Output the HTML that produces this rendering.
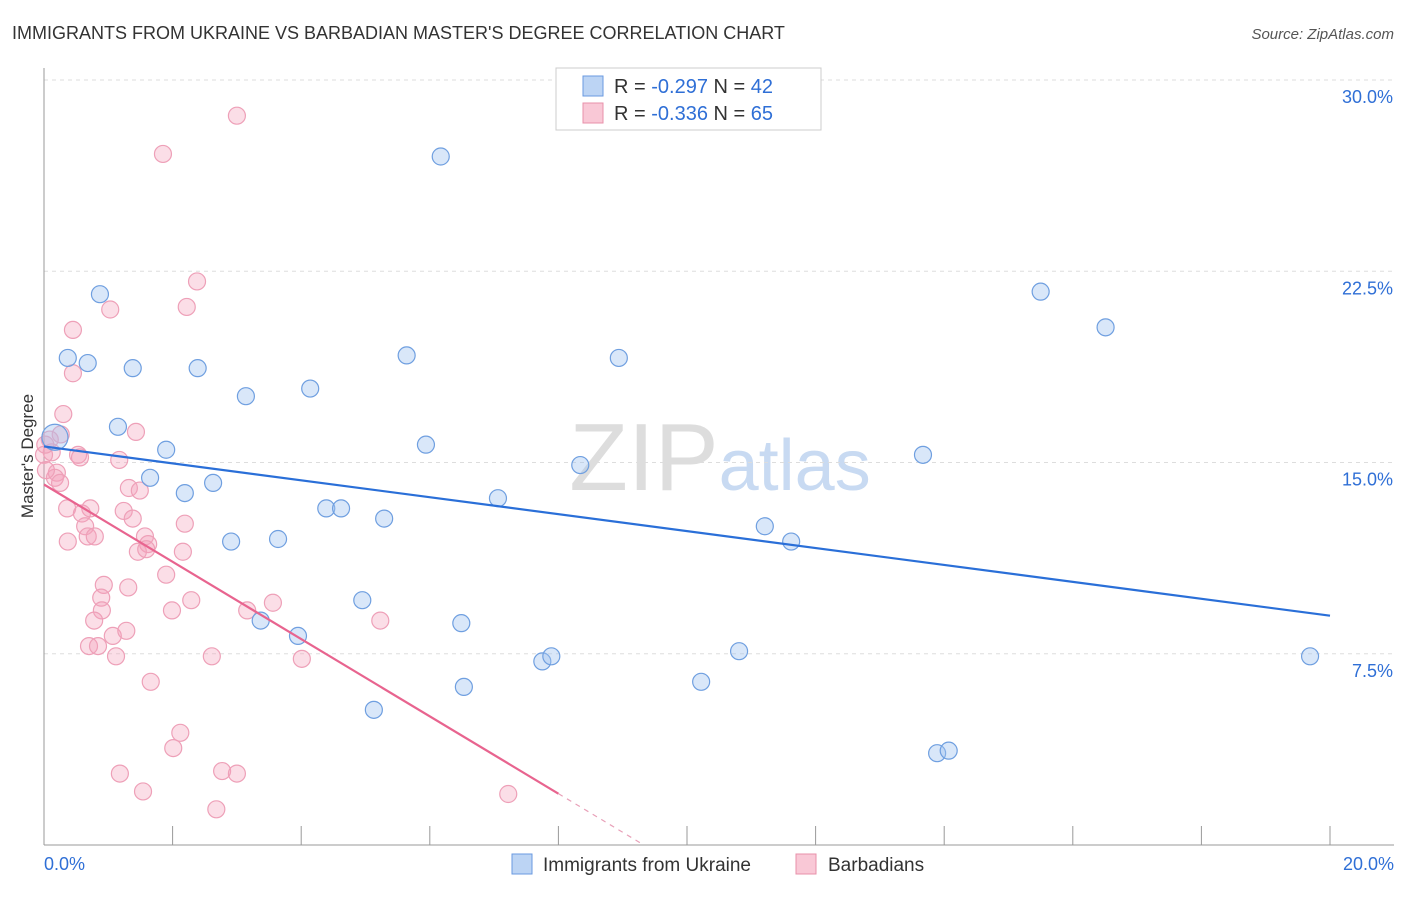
<!DOCTYPE html>
<html><head><meta charset="utf-8"><style>
body{margin:0;background:#fff;font-family:"Liberation Sans",sans-serif}
svg text{font-family:"Liberation Sans",sans-serif}
</style></head><body>
<svg id="chart" width="1406" height="892" xmlns="http://www.w3.org/2000/svg">
<text x="12" y="39" font-size="18" fill="#333">IMMIGRANTS FROM UKRAINE VS BARBADIAN MASTER'S DEGREE CORRELATION CHART</text>
<text x="1394" y="39" font-size="15" fill="#555" text-anchor="end" font-style="italic">Source: ZipAtlas.com</text>
<text x="720" y="490" font-size="96" fill="#ddd" text-anchor="middle" font-family="Liberation Serif">ZIP<tspan fill="#c8daf2" font-family="Liberation Sans" font-size="72">atlas</tspan></text>
<g id="grid"></g><g id="axes"></g>
<text transform="translate(33,456) rotate(-90)" font-size="17" fill="#333" text-anchor="middle">Master's Degree</text>
<g id="pts"></g><g id="trend"></g>
<g>
<rect x="556" y="68" width="265" height="62" fill="#fff" stroke="#ccc"/>
<rect x="583" y="76" width="20" height="20" fill="#bcd4f4" stroke="#6a9ae0"/>
<rect x="583" y="103" width="20" height="20" fill="#f9c8d6" stroke="#e890aa"/>
<text x="614" y="93" font-size="20" fill="#333">R = <tspan fill="#2f6fd6">-0.297</tspan>    N = <tspan fill="#2f6fd6">42</tspan></text>
<text x="614" y="120" font-size="20" fill="#333">R = <tspan fill="#2f6fd6">-0.336</tspan>    N = <tspan fill="#2f6fd6">65</tspan></text>
</g>
<g>
<rect x="512" y="854" width="20" height="20" fill="#bcd4f4" stroke="#6a9ae0"/>
<text x="543" y="871" font-size="19" fill="#333">Immigrants from Ukraine</text>
<rect x="796" y="854" width="20" height="20" fill="#f9c8d6" stroke="#e890aa"/>
<text x="828" y="871" font-size="19" fill="#333">Barbadians</text>
</g>
</svg>
<script>
const blueX=[0.87,0.37,0.68,1.38,2.39,3.14,4.14,5.64,6.17,8.94,15.5,16.51,1.15,1.9,1.65,2.19,2.63,5.94,8.34,13.67,7.06,4.39,4.62,5.29,2.91,3.64,11.21,11.62,4.95,3.37,3.95,6.49,7.75,7.89,10.81,19.69,6.53,10.22,5.13,13.89,14.07,0.17];
const blueY=[21.6,19.1,18.9,18.7,18.7,17.6,17.9,19.2,27.0,19.1,21.7,20.3,16.4,15.5,14.4,13.8,14.2,15.7,14.9,15.3,13.6,13.2,13.2,12.8,11.9,12.0,12.5,11.9,9.6,8.8,8.2,8.7,7.2,7.4,7.6,7.4,6.2,6.4,5.3,3.6,3.7,15.99];
const pinkX=[3.0,1.85,2.38,2.22,1.03,0.45,0.45,0.3,0.26,0.09,0.12,0.53,0.56,0.2,0.17,1.43,1.17,0.36,0.72,0.59,1.24,1.32,1.49,0.64,1.38,2.19,0.37,0.68,0.79,1.57,1.62,1.46,1.59,2.16,1.9,0.93,1.31,0.89,2.29,0.9,1.99,3.16,3.56,5.23,0.78,1.07,1.28,0.7,0.84,1.12,2.61,4.01,1.66,2.12,2.01,1.18,2.77,3.0,1.54,2.68,7.22,0.0,0.02,0.03,0.25];
const pinkY=[28.6,27.1,22.1,21.1,21.0,20.2,18.5,16.9,16.1,15.9,15.4,15.3,15.2,14.6,14.4,16.2,15.1,13.2,13.2,13.0,13.1,14.0,13.9,12.5,12.8,12.6,11.9,12.1,12.1,12.1,11.8,11.5,11.6,11.5,10.6,10.2,10.1,9.7,9.6,9.2,9.2,9.2,9.5,8.8,8.8,8.2,8.4,7.8,7.8,7.4,7.4,7.3,6.4,4.4,3.8,2.8,2.9,2.8,2.1,1.4,2.0,15.3,15.7,14.7,14.2];
const yTicks=[7.5,15,22.5,30], yLabels=["7.5%","15.0%","22.5%","30.0%"];
const xs=v=>44+v*64.3, ys=v=>845-v*25.5;
const NS="http://www.w3.org/2000/svg";
function mk(p,t,a){const e=document.createElementNS(NS,t);for(const k in a)e.setAttribute(k,a[k]);p.appendChild(e);return e;}
const grid=document.getElementById('grid'),axes=document.getElementById('axes');
yTicks.forEach((t,i)=>{const l=mk(grid,'line',{x1:44,x2:1394,y1:ys(t),y2:ys(t),stroke:'#ddd','stroke-dasharray':'4,4'});


const tx=mk(axes,'text',{x:1393,y:ys(t)+23,'font-size':18,fill:'#2f6fd6','text-anchor':'end'});tx.textContent=yLabels[i];

});
mk(axes,'line',{x1:44,x2:44,y1:68,y2:845,stroke:'#999'});
mk(axes,'line',{x1:44,x2:1394,y1:845,y2:845,stroke:'#999'});
for(let i=1;i<=10;i++){const t=mk(axes,'line',{x1:xs(i*2),x2:xs(i*2),y1:826,y2:845,stroke:'#999'});

}
[["0.0%",44,'start'],["20.0%",1394,'end']].forEach(a=>{const t=mk(axes,'text',{x:a[1],y:870,'font-size':18,fill:'#2f6fd6','text-anchor':a[2]});t.textContent=a[0];

});
const pts=document.getElementById('pts');
pinkX.forEach((v,i)=>{const c=mk(pts,'circle',{cx:xs(v),cy:ys(pinkY[i]),r:8.5,fill:'rgba(244,160,185,0.35)',stroke:'#eea0b8','stroke-width':1.2});

});
blueX.forEach((v,i)=>{const big=i===blueX.length-1;const c=mk(pts,'circle',{cx:xs(v),cy:ys(blueY[i]),r:big?13:8.5,fill:'rgba(160,195,240,0.4)',stroke:'#6f9fe0','stroke-width':1.2});

});
function fit(X,Y){const n=X.length,mx=X.reduce((a,b)=>a+b)/n,my=Y.reduce((a,b)=>a+b)/n;let sxy=0,sxx=0;X.forEach((x,i)=>{sxy+=(x-mx)*(Y[i]-my);sxx+=(x-mx)**2});const b=sxy/sxx;return [my-b*mx,b];}
const tr=document.getElementById('trend');
const [ba,bb]=fit(blueX,blueY);
let l=mk(tr,'line',{x1:xs(0),y1:ys(ba),x2:xs(20),y2:ys(ba+bb*20),stroke:'#2a6fd8','stroke-width':2.2});


const [pa,pb]=fit(pinkX,pinkY);
const xe=8, xz=-pa/pb;
l=mk(tr,'line',{x1:xs(0),y1:ys(pa),x2:xs(xe),y2:ys(pa+pb*xe),stroke:'#e8648f','stroke-width':2.2});


l=mk(tr,'line',{x1:xs(xe),y1:ys(pa+pb*xe),x2:xs(xz),y2:ys(0),stroke:'#e8a0b8','stroke-width':1.2,'stroke-dasharray':'5,5'});


</script>
</body></html>
